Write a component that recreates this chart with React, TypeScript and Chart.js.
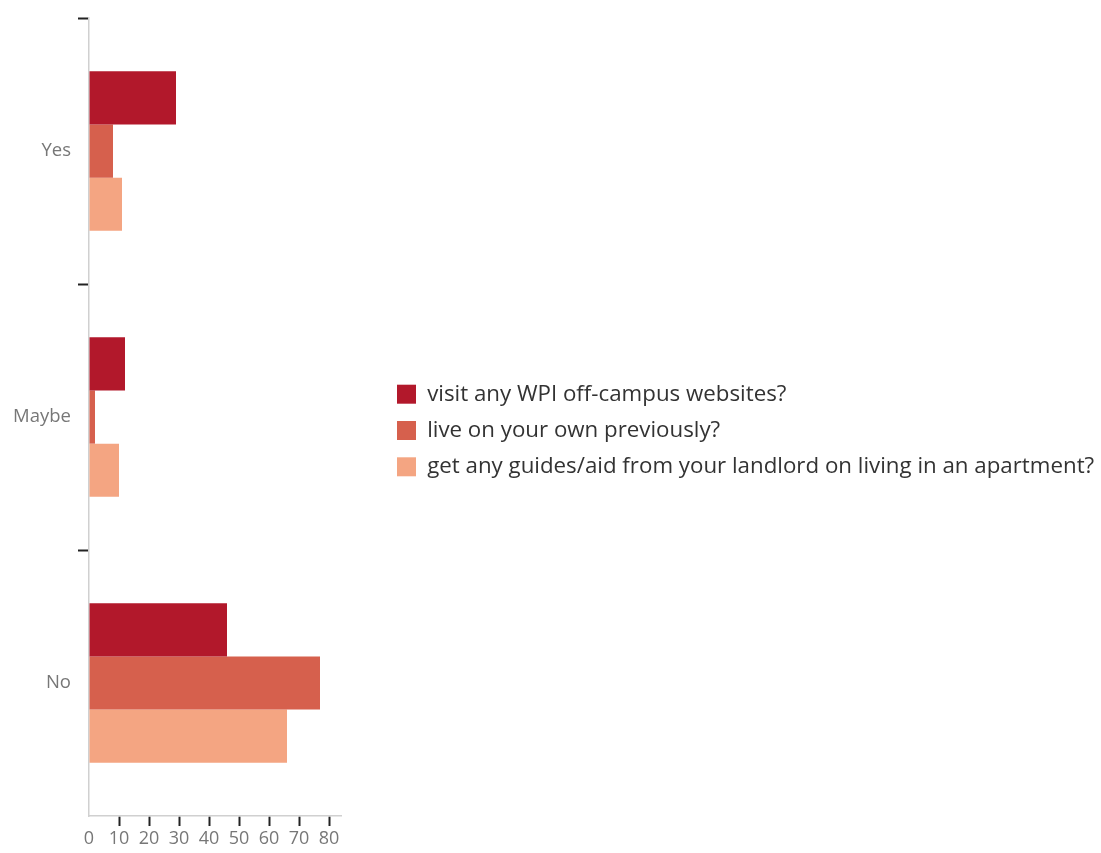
import React, { useEffect, useRef } from "react";
import { Chart, registerables } from "chart.js";

Chart.register(...registerables);

const categories = ["Yes", "Maybe", "No"];
const seriesNames = [
  "visit any WPI off-campus websites?",
  "live on your own previously?",
  "get any guides/aid from your landlord on living in an apartment?",
];
const visitWebsites = [29, 12, 46];
const livedOnOwn = [8, 2, 77];
const landlordGuides = [11, 10, 66];
const seriesColors = ["#b2182b", "#d6604d", "#f4a582"];
const xTicks = [0, 10, 20, 30, 40, 50, 60, 70, 80];

const FONT = "'Open Sans', sans-serif";

const layoutFix = {
  id: "layoutFix",
  beforeLayout(chart: any) {
    const lg = chart.legend;
    if (lg && !lg.__patched) {
      const orig = lg.fit.bind(lg);
      lg.fit = function () {
        orig();
        this.width = 760;
      };
      lg.__patched = true;
    }
  },
  afterLayout(chart: any) {
    const lg = chart.legend;
    if (lg) {
      lg.left = 383;
      lg.top = lg.top - 4;
      lg.bottom = lg.bottom - 4;
    }
  },
};

export default function App() {
  const ref = useRef<HTMLCanvasElement | null>(null);
  useEffect(() => {
    if (!ref.current) return;
    const data = [visitWebsites, livedOnOwn, landlordGuides];
    const chart = new Chart(ref.current, {
      type: "bar",
      data: {
        labels: categories,
        datasets: seriesNames.map((name, i) => ({
          label: name,
          data: data[i],
          backgroundColor: seriesColors[i],
          borderWidth: 0,
          categoryPercentage: 0.6,
          barPercentage: 1.0,
        })),
      },
      options: {
        indexAxis: "y",
        animation: false,
        responsive: true,
        maintainAspectRatio: false,
        layout: { padding: { top: 16, left: 0, right: 0, bottom: 0 } },
        plugins: {
          legend: {
            position: "right",
            align: "center",
            labels: {
              boxWidth: 19,
              boxHeight: 19,
              padding: 14,
              color: "#333",
              font: { family: FONT, size: 22.3 },
            },
          },
          tooltip: { enabled: false },
        },
        scales: {
          x: {
            min: 0,
            max: 84,
            afterBuildTicks: (s: any) => {
              s.ticks = xTicks.map((v) => ({ value: v }));
            },
            afterFit: (s: any) => {
              s.height = 37;
            },
            border: { color: "#d0d0d0", width: 1.5 },
            grid: {
              drawOnChartArea: false,
              drawTicks: true,
              tickLength: 10,
              tickWidth: 2,
              tickColor: (c: any) => (c.tick && c.tick.value === 0 ? "rgba(0,0,0,0)" : "#222"),
            },
            ticks: {
              color: "#777",
              padding: 2,
              font: { family: FONT, size: 18 },
              maxRotation: 0,
            },
          },
          y: {
            afterFit: (s: any) => {
              s.width = 89;
            },
            border: { color: "#d0d0d0", width: 1.5 },
            grid: {
              drawOnChartArea: false,
              drawTicks: true,
              offset: true,
              tickLength: 11,
              tickWidth: 2,
              tickColor: (c: any) => (c.tick === undefined ? "rgba(0,0,0,0)" : "#222"),
            },
            ticks: {
              color: "#777",
              padding: 7,
              font: { family: FONT, size: 18.5 },
            },
          },
        },
      },
      plugins: [layoutFix],
    });
    return () => chart.destroy();
  }, []);
  return (
    <div style={{ position: "absolute", left: 0, top: 0, width: 1101, height: 853, background: "#fff" }}>
      <canvas ref={ref} />
    </div>
  );
}
